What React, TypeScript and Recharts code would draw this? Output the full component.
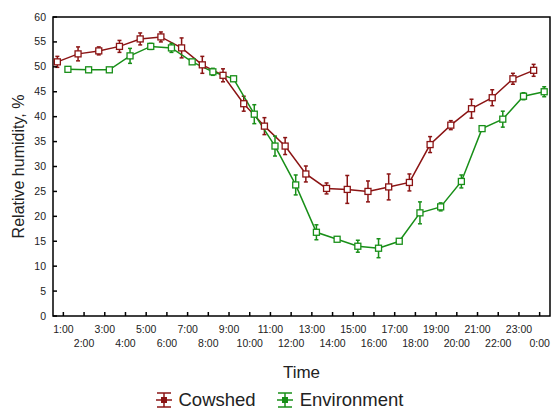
import React from "react";
import {
  LineChart,
  Line,
  XAxis,
  YAxis,
  ErrorBar,
  Legend,
  Label,
  ReferenceArea
} from "recharts";

const HOURS = [
  "1:00", "2:00", "3:00", "4:00", "5:00", "6:00", "7:00", "8:00",
  "9:00", "10:00", "11:00", "12:00", "13:00", "14:00", "15:00", "16:00",
  "17:00", "18:00", "19:00", "20:00", "21:00", "22:00", "23:00", "0:00"
];

const COWSHED = [
  51.0, 52.6, 53.2, 54.1, 55.6, 56.0, 53.8, 50.4,
  48.3, 42.6, 38.1, 34.1, 28.5, 25.6, 25.4, 25.0,
  25.9, 26.8, 34.4, 38.3, 41.6, 43.8, 47.6, 49.3
];
const COWSHED_ERR = [
  1.1, 1.4, 0.8, 1.2, 1.2, 1.0, 2.0, 1.7,
  1.3, 1.5, 1.7, 1.7, 1.6, 1.1, 2.8, 2.1,
  2.6, 1.7, 1.6, 0.9, 1.9, 1.6, 1.1, 1.2
];

const ENVIRONMENT = [
  49.5, 49.4, 49.4, 52.2, 54.1, 53.8, 51.0, 49.0,
  47.6, 40.5, 34.1, 26.3, 16.8, 15.4, 14.0, 13.6,
  15.0, 20.7, 21.9, 27.0, 37.6, 39.5, 44.1, 45.0
];
const ENVIRONMENT_ERR = [
  0.4, 0.5, 0.4, 1.5, 0.6, 0.9, 0.4, 0.7,
  0.5, 1.9, 2.0, 2.0, 1.5, 0.4, 1.2, 1.9,
  0.4, 2.2, 0.8, 1.3, 0.5, 1.6, 0.7, 1.0
];

const Y_TICKS = [0, 5, 10, 15, 20, 25, 30, 35, 40, 45, 50, 55, 60];

const RED = "#8b1414";
const GREEN = "#188f18";
const FONT = "'Liberation Sans', Arial, sans-serif";

// hour index on a numeric axis; the two series are nudged apart like the original
const X_DOMAIN: [number, number] = [0.5, 24.5];
const Y_DOMAIN: [number, number] = [0, 60];
const COW_SHIFT = 0.29;
const ENV_SHIFT = -0.22;

const data = HOURS.map((h, i) => ({
  hour: i + 1,
  label: h,
  cowshed: COWSHED[i],
  cowErr: COWSHED_ERR[i],
  env: ENVIRONMENT[i],
  envErr: ENVIRONMENT_ERR[i]
}));

const XTick = (props: any) => {
  const { x, y, payload } = props;
  const odd = payload.value % 2 === 1;
  return (
    <g>
      <line x1={x} x2={x} y1={y} y2={y - 4} stroke="#000" strokeWidth={1.5} />
      <text
        x={x}
        y={y + (odd ? 17 : 31)}
        textAnchor="middle"
        fontSize={10.5}
        fontFamily={FONT}
        fill="#222"
      >
        {HOURS[payload.value - 1]}
      </text>
    </g>
  );
};

const YTick = (props: any) => {
  const { x, y, payload } = props;
  return (
    <g>
      <line x1={x} x2={x + 4} y1={y} y2={y} stroke="#000" strokeWidth={1.5} />
      <text x={x - 7} y={y + 3.5} textAnchor="end" fontSize={10.5} fontFamily={FONT} fill="#222">
        {payload.value}
      </text>
    </g>
  );
};

const squareDot = (color: string) => (props: any) => {
  const { cx, cy, index } = props;
  if (cx == null || cy == null) return <g key={index} />;
  return (
    <rect
      key={index}
      x={cx - 3}
      y={cy - 3}
      width={6}
      height={6}
      fill="#fff"
      stroke={color}
      strokeWidth={1.3}
    />
  );
};

const LegendIcon = ({ color }: { color: string }) => (
  <svg width={18} height={18} style={{ marginRight: 6 }}>
    <line x1={9} x2={9} y1={2} y2={16} stroke={color} strokeWidth={1.5} />
    <line x1={2} x2={16} y1={2} y2={2} stroke={color} strokeWidth={1.5} />
    <line x1={2} x2={16} y1={16} y2={16} stroke={color} strokeWidth={1.5} />
    <line x1={1} x2={17} y1={9} y2={9} stroke={color} strokeWidth={1.5} />
    <rect x={6.5} y={6.5} width={5} height={5} fill={color} stroke={color} />
  </svg>
);

const LegendBox = () => (
  <div
    style={{
      display: "flex",
      justifyContent: "center",
      alignItems: "flex-end",
      height: 31,
      paddingLeft: 8,
      fontFamily: FONT,
      fontSize: 18.5,
      color: "#222"
    }}
  >
    <span style={{ display: "flex", alignItems: "center", marginRight: 20 }}>
      <LegendIcon color={RED} />
      Cowshed
    </span>
    <span style={{ display: "flex", alignItems: "center" }}>
      <LegendIcon color={GREEN} />
      Environment
    </span>
  </div>
);

export default function App() {
  return (
    <div style={{ position: "absolute", left: 0, top: 0, background: "#fff" }}>
      <LineChart
        width={552}
        height={411}
        data={data}
        margin={{ top: 17, right: 2, left: 0, bottom: 0 }}
      >
        <XAxis
          xAxisId="main"
          type="number"
          dataKey="hour"
          domain={X_DOMAIN}
          ticks={data.map((d) => d.hour)}
          interval={0}
          tick={<XTick />}
          tickSize={0}
          tickMargin={0}
          tickLine={false}
          axisLine={false}
          height={64}
        >
          <Label
            value="Time"
            position="insideBottom"
            offset={2}
            fontSize={17}
            fontFamily={FONT}
            fill="#222"
          />
        </XAxis>
        <XAxis
          xAxisId="cow"
          type="number"
          dataKey="hour"
          domain={[X_DOMAIN[0] + COW_SHIFT, X_DOMAIN[1] + COW_SHIFT]}
          allowDataOverflow
          height={0}
          hide
        />
        <XAxis
          xAxisId="env"
          type="number"
          dataKey="hour"
          domain={[X_DOMAIN[0] + ENV_SHIFT, X_DOMAIN[1] + ENV_SHIFT]}
          allowDataOverflow
          height={0}
          hide
        />
        <YAxis
          yAxisId="left"
          type="number"
          domain={Y_DOMAIN}
          ticks={Y_TICKS}
          interval={0}
          tick={<YTick />}
          tickSize={0}
          tickMargin={0}
          tickLine={false}
          axisLine={false}
          width={53}
        >
          <Label
            value="Relative humidity, %"
            angle={-90}
            position="insideLeft"
            offset={18}
            fontSize={16}
            fontFamily={FONT}
            fill="#222"
            style={{ textAnchor: "middle" }}
          />
        </YAxis>
        {/* plot frame */}
        <ReferenceArea
          xAxisId="main"
          yAxisId="left"
          x1={X_DOMAIN[0]}
          x2={X_DOMAIN[1]}
          y1={Y_DOMAIN[0]}
          y2={Y_DOMAIN[1]}
          fill="none"
          fillOpacity={0}
          stroke="#000"
          strokeWidth={1.5}
          ifOverflow="visible"
        />
        <Legend verticalAlign="bottom" height={31} content={<LegendBox />} />
        <Line
          xAxisId="cow"
          yAxisId="left"
          dataKey="cowshed"
          name="Cowshed"
          type="linear"
          stroke={RED}
          strokeWidth={1.5}
          dot={squareDot(RED)}
          activeDot={false}
          isAnimationActive={false}
        >
          <ErrorBar dataKey="cowErr" width={2} stroke={RED} strokeWidth={1.5} direction="y" />
        </Line>
        <Line
          xAxisId="env"
          yAxisId="left"
          dataKey="env"
          name="Environment"
          type="linear"
          stroke={GREEN}
          strokeWidth={1.5}
          dot={squareDot(GREEN)}
          activeDot={false}
          isAnimationActive={false}
        >
          <ErrorBar dataKey="envErr" width={2} stroke={GREEN} strokeWidth={1.5} direction="y" />
        </Line>
      </LineChart>
    </div>
  );
}
